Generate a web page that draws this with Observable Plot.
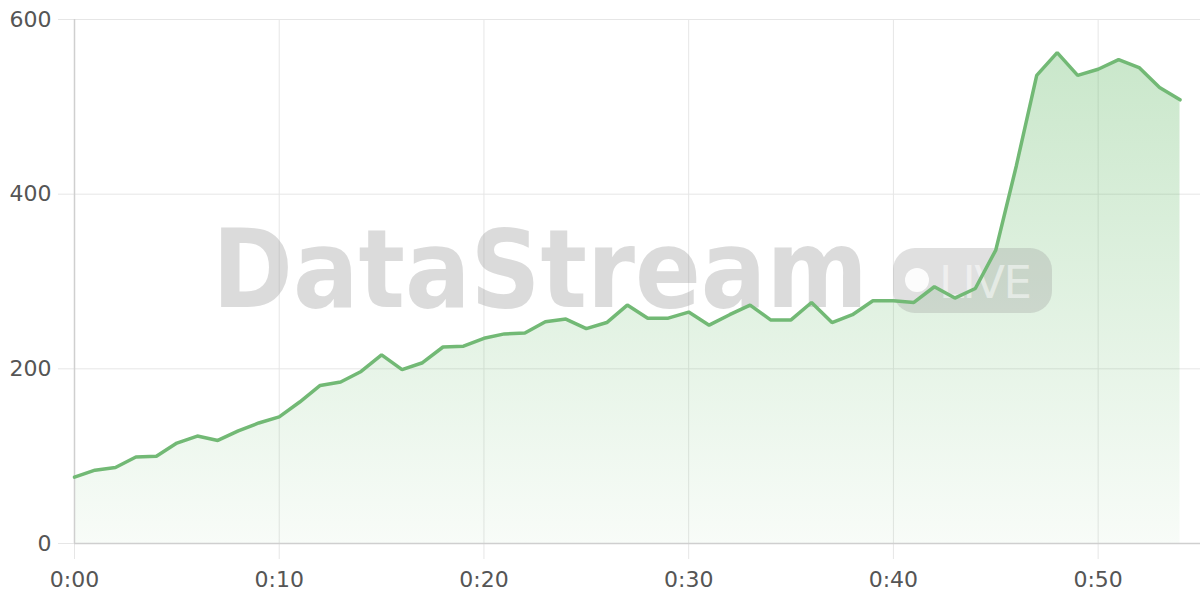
<!DOCTYPE html>
<html><head><meta charset="utf-8">
<script src="https://cdn.jsdelivr.net/npm/d3@7"></script>
<script src="https://cdn.jsdelivr.net/npm/@observablehq/plot@0.6"></script>
<style>html,body{margin:0;padding:0;background:#fff;} #chart svg{display:block;}</style>
</head><body><div id="chart"></div>
<script>
const minutes = [0,1,2,3,4,5,6,7,8,9,10,11,12,13,14,15,16,17,18,19,20,21,22,23,24,25,26,27,28,29,30,31,32,33,34,35,36,37,38,39,40,41,42,43,44,45,46,47,48,49,50,51,52,53,54];
const viewers = [76,84,87,99,100,115,123,118,129,138,145,162,181,185,197,216,199,207,225,226,235,240,241,254,257,246,253,273,258,258,265,250,262,273,256,256,276,253,262,278,278,276,294,281,292,336,432,536,562,536,543,554,545,522,508];
const xTicks = [0,10,20,30,40,50];
const yTicks = [0,200,400,600];
const watermarkText = "DataStream";
const badgeText = "LIVE";

const data = minutes.map((m, i) => ({minute: m, value: viewers[i]}));
const fmtX = m => `${Math.floor(m / 60)}:${String(m % 60).padStart(2, "0")}`;

const gridColor = "#e6e6e6";

const defs = () => {
  const g = d3.create("svg:defs");
  const lg = g.append("linearGradient").attr("id", "areaGrad")
    .attr("x1", 0).attr("y1", 0).attr("x2", 0).attr("y2", 1);
  lg.append("stop").attr("offset", "0%").attr("stop-color", "#4caf50").attr("stop-opacity", 0.3);
  lg.append("stop").attr("offset", "100%").attr("stop-color", "#4caf50").attr("stop-opacity", 0.04);
  return g.node();
};

const watermark = (index, scales, values, dims) => {
  const cx = dims.marginLeft + (dims.width - dims.marginLeft - dims.marginRight) / 2;
  const cy = dims.marginTop + (dims.height - dims.marginTop - dims.marginBottom) / 2;
  const g = d3.create("svg:g").attr("pointer-events", "none");
  g.append("text").text(watermarkText)
    .attr("x", cx - 97).attr("y", cy + 26)
    .attr("text-anchor", "middle")
    .attr("font-family", "'DejaVu Sans Condensed', 'DejaVu Sans', sans-serif")
    .attr("font-stretch", "condensed")
    .attr("font-weight", 700).attr("font-size", 108)
    .attr("fill", "#999").attr("fill-opacity", 0.35);
  g.append("rect").attr("x", cx + 256).attr("y", cy - 33).attr("width", 159).attr("height", 65)
    .attr("rx", 22).attr("fill", "#999").attr("fill-opacity", 0.3);
  g.append("circle").attr("cx", cx + 280).attr("cy", cy - 1).attr("r", 12)
    .attr("fill", "#fff").attr("fill-opacity", 0.9);
  g.append("text").text(badgeText)
    .attr("x", cx + 302).attr("y", cy + 17)
    .attr("text-anchor", "start")
    .attr("font-family", "'DejaVu Sans', sans-serif").attr("font-size", 45)
    .attr("textLength", 93)
    .attr("fill", "#fff").attr("fill-opacity", 0.5);
  return g.node();
};

const chart = Plot.plot({
  width: 1200,
  height: 600,
  marginLeft: 74,
  marginRight: 0,
  marginTop: 19,
  marginBottom: 57,
  style: {fontFamily: "'DejaVu Sans', sans-serif", fontSize: "22px", background: "#fff", overflow: "visible"},
  x: {domain: [0, 55]},
  y: {domain: [0, 600]},
  marks: [
    defs,
    Plot.gridY(yTicks, {stroke: gridColor, strokeOpacity: 1}),
    Plot.gridX(xTicks, {stroke: gridColor, strokeOpacity: 1}),
    Plot.axisY(yTicks, {tickSize: 16, tickPadding: 7, stroke: gridColor, fill: "#555", fontSize: 22, label: null}),
    Plot.axisX(xTicks, {tickSize: 16, tickPadding: 12, stroke: gridColor, fill: "#555", fontSize: 22, label: null, tickFormat: fmtX}),
    Plot.areaY(data, {x: "minute", y: "value", fill: "url(#areaGrad)"}),
    watermark,
    Plot.ruleX([0], {stroke: "#cfcfcf", strokeWidth: 1.5}),
    Plot.ruleY([0], {stroke: "#cfcfcf", strokeWidth: 1.5}),
    Plot.lineY(data, {x: "minute", y: "value", stroke: "#72b975", strokeWidth: 3.5, strokeLinejoin: "miter"})
  ]
});
document.getElementById("chart").appendChild(chart);
</script>
</body></html>
